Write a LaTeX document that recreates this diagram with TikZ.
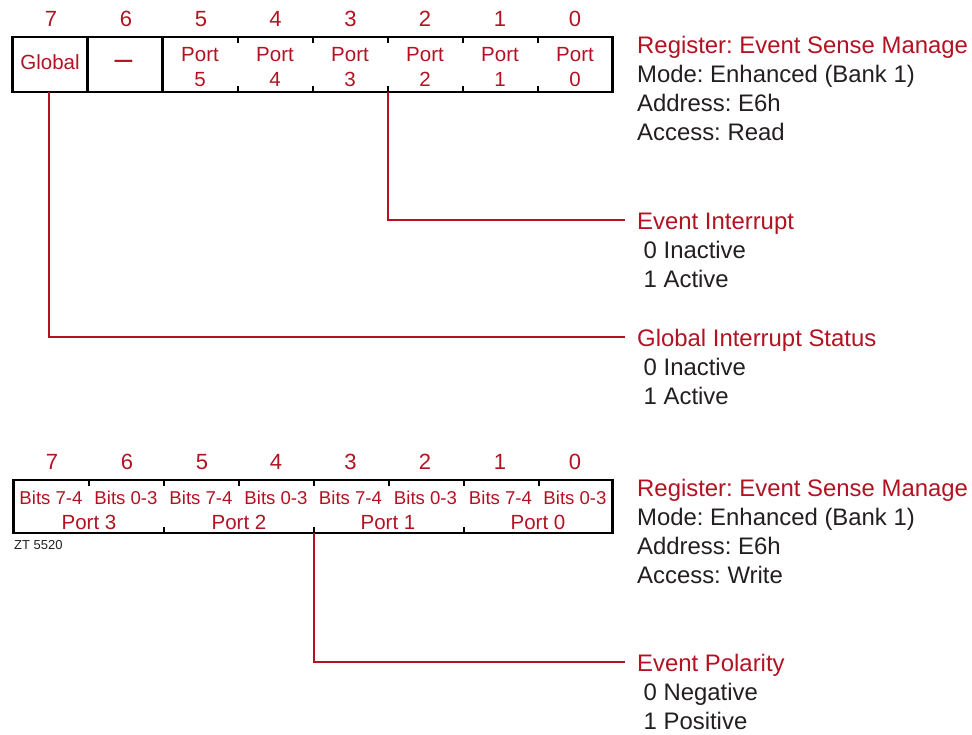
\documentclass[tikz,border=0pt]{standalone}
\usepackage{fontspec}
\setmainfont{Liberation Sans}
\definecolor{regred}{RGB}{178,18,34}
\definecolor{ink}{RGB}{35,31,32}

\begin{document}
\frenchspacing
\begin{tikzpicture}[x=1pt,y=-1pt,
  bitnum/.style={font=\fontsize{22}{22}\selectfont, text=regred, anchor=base, inner sep=0pt},
  field/.style={font=\fontsize{20.5}{20.5}\selectfont, text=regred, anchor=base, inner sep=0pt},
  halffield/.style={font=\fontsize{18.6}{18.6}\selectfont, text=regred, anchor=base, inner sep=0pt},
  regtitle/.style={font=\fontsize{23.9}{23.9}\selectfont, text=regred, anchor=base west, inner sep=0pt},
  info/.style={font=\fontsize{23.9}{23.9}\selectfont, text=ink, anchor=base west, inner sep=0pt},
  regbox/.style={draw=black, line width=2.4pt, inner sep=0pt, outer sep=0pt, anchor=north west},
  divider/.style={draw=black, line width=2.4pt},
  notch/.style={draw=black, line width=2pt},
  link/.style={draw=regred, line width=2pt}
]
\useasboundingbox (0,0) rectangle (972,734);

% ---------------- read register ----------------
\node[regbox, minimum width=600pt, minimum height=55pt] (rdreg) at (12.5,37) {};
\draw[divider] (87.5,37) -- (87.5,92);
\draw[divider] (162.5,37) -- (162.5,92);
\foreach \x in {237.5,312.5,387.5,462.5,537.5} {
  \draw[notch] (\x,37) -- (\x,43);
  \draw[notch] (\x,92) -- (\x,86);
}
% bit numbers
\foreach \b/\x in {7/51,6/126,5/201,4/275.5,3/350.5,2/425,1/500,0/575}
  \node[bitnum] (rdbit\b) at (\x,26) {\b};
% fields
\node[field] (rdglobal) at (50,69.5) {Global};
\node[field, font=\fontsize{32}{32}\selectfont] (rdreserved) at (123.5,69) {–};
\foreach \p/\x in {5/200,4/275,3/350,2/425,1/500,0/575} {
  \node[field] (rdport\p) at (\x,61.5) {Port};
  \node[field] (rdportnum\p) at (\x,86) {\p};
}

% description of the read register
\node[regtitle] (rdtitle) at (637,53.5) {Register: Event Sense Manage};
\node[info] (rdmode) at (637,82.5) {Mode: Enhanced (Bank 1)};
\node[info] (rdaddr) at (637,111.5) {Address: E6h};
\node[info] (rdaccess) at (637,140.5) {Access: Read};

\node[regtitle] (evint) at (637,229) {Event Interrupt};
\node[info] (evint0) at (643.5,258) {0 Inactive};
\node[info] (evint1) at (643.5,287) {1 Active};

\node[regtitle] (glint) at (637,346) {Global Interrupt Status};
\node[info] (glint0) at (643.5,375) {0 Inactive};
\node[info] (glint1) at (643.5,404) {1 Active};

% leaders from the bit fields
\coordinate (evintsrc) at (387.5,92);
\coordinate (evintend) at (625,220);
\coordinate (glintsrc) at (49,92);
\coordinate (glintend) at (625,337);
\draw[link] (evintsrc) |- (evintend);
\draw[link] (glintsrc) |- (glintend);

% ---------------- write register ----------------
\node[regbox, minimum width=599pt, minimum height=53pt] (wrreg) at (13.5,480) {};
\foreach \x in {88.5,163.5,238.5,313.5,388.5,463.5,538.5}
  \draw[notch] (\x,480) -- (\x,486);
\foreach \x in {163.5,313.5,463.5}
  \draw[notch] (\x,533) -- (\x,527);
% bit numbers
\foreach \b/\x in {7/52,6/127,5/202,4/276,3/350.5,2/425,1/500,0/575}
  \node[bitnum] (wrbit\b) at (\x,469) {\b};
% nibble fields
\foreach \n/\x/\t in {a/51/{Bits 7-4},b/126/{Bits 0-3},c/201/{Bits 7-4},d/276/{Bits 0-3},
                      e/350.5/{Bits 7-4},f/425.5/{Bits 0-3},g/500.5/{Bits 7-4},h/575/{Bits 0-3}}
  \node[halffield] (wrnib\n) at (\x,504.3) {\t};
\foreach \p/\x in {3/89,2/239,1/388,0/538}
  \node[field] (wrport\p) at (\x,529.3) {Port \p};
\node[anchor=base west, inner sep=0pt, text=ink, font=\fontsize{13}{13}\selectfont] (figid) at (14,549.3) {ZT 5520};

% description of the write register
\node[regtitle] (wrtitle) at (637,496.5) {Register: Event Sense Manage};
\node[info] (wrmode) at (637,525.5) {Mode: Enhanced (Bank 1)};
\node[info] (wraddr) at (637,554.5) {Address: E6h};
\node[info] (wraccess) at (637,583.5) {Access: Write};

\node[regtitle] (evpol) at (637,671) {Event Polarity};
\node[info] (evpol0) at (643.5,700) {0 Negative};
\node[info] (evpol1) at (643.5,729) {1 Positive};

\coordinate (evpolsrc) at (313.5,533);
\coordinate (evpolend) at (625,662);
\draw[link] (evpolsrc) |- (evpolend);
\end{tikzpicture}
\end{document}
